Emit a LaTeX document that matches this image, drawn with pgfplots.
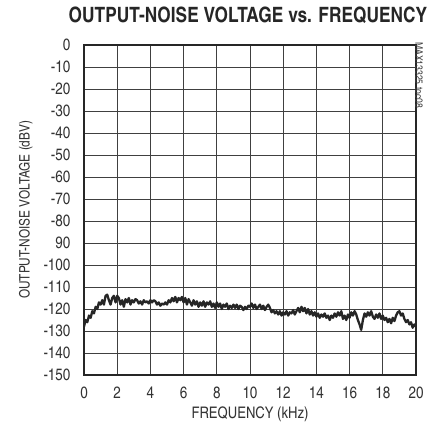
\documentclass[border=0pt]{standalone}
\usepackage{pgfplots}
\pgfplotsset{compat=1.18}
\usepackage{fontspec}
\setmainfont{texgyreheroscn}[Extension=.otf, UprightFont=*-regular, BoldFont=*-bold]
\pgfplotstableread{
f v
0.0 -128
0.1 -125
0.2 -126
0.3 -123
0.4 -124
0.5 -121
0.6 -122
0.7 -119
0.8 -120
0.9 -117
1.0 -118
1.1 -116
1.2 -118
1.3 -114
1.4 -113.5
1.5 -116
1.6 -118
1.7 -115
1.8 -114
1.9 -117
2.0 -114
2.1 -115
2.2 -118
2.3 -116
2.4 -119
2.5 -115.5
2.6 -117
2.7 -115
2.8 -118
2.9 -116
3.0 -117
3.1 -115.5
3.2 -116
3.3 -117.5
3.4 -116.5
3.5 -118
3.6 -116
3.7 -117
3.8 -116.5
3.9 -117.5
4.0 -116
4.1 -117
4.2 -116
4.3 -116.5
4.4 -118
4.5 -117
4.6 -118.5
4.7 -117.5
4.8 -118
4.9 -117
5.0 -118
5.1 -116
5.2 -117
5.3 -115
5.4 -116.5
5.5 -114.5
5.6 -117
5.7 -115
5.8 -116
5.9 -114.5
6.0 -117
6.1 -115
6.2 -118
6.3 -115.5
6.4 -117
6.5 -118.5
6.6 -116
6.7 -118
6.8 -116.5
6.9 -119
7.0 -117
7.1 -118.5
7.2 -116.5
7.3 -119
7.4 -117
7.5 -118
7.6 -116.5
7.7 -119
7.8 -117.5
7.9 -119.5
8.0 -117
8.1 -119
8.2 -117.5
8.3 -120
8.4 -118
8.5 -119
8.6 -117.5
8.7 -120
8.8 -118.5
8.9 -119.5
9.0 -118
9.1 -119.5
9.2 -118
9.3 -120
9.4 -118.5
9.5 -119
9.6 -120.5
9.7 -119
9.8 -120
9.9 -118.5
10.0 -119
10.1 -117.5
10.2 -119.5
10.3 -118
10.4 -120
10.5 -119
10.6 -118
10.7 -120
10.8 -118.5
10.9 -120.5
11.0 -119
11.1 -118
11.2 -119.5
11.3 -121.5
11.4 -120.5
11.5 -122
11.6 -121
11.7 -122.5
11.8 -121
11.9 -123
12.0 -121.5
12.1 -122.5
12.2 -121
12.3 -123
12.4 -121.5
12.5 -122
12.6 -120.5
12.7 -122.5
12.8 -121
12.9 -119.5
13.0 -121.5
13.1 -119
13.2 -121
13.3 -119.5
13.4 -122
13.5 -120
13.6 -122.5
13.7 -121
13.8 -123
13.9 -121.5
14.0 -123.5
14.1 -122
14.2 -124
14.3 -122.5
14.4 -123.5
14.5 -122
14.6 -124
14.7 -123
14.8 -125
14.9 -123
15.0 -124
15.1 -122
15.2 -123.5
15.3 -121.5
15.4 -123
15.5 -121
15.6 -124.5
15.7 -123
15.8 -125
15.9 -122.5
16.0 -124
16.1 -121.5
16.2 -123
16.3 -121
16.4 -122.5
16.5 -125
16.6 -127
16.7 -129.5
16.8 -125
16.9 -122
17.0 -123.5
17.1 -121.5
17.2 -123
17.3 -121
17.4 -123.5
17.5 -124.5
17.6 -122.5
17.7 -124
17.8 -122
17.9 -124.5
18.0 -123
18.1 -125
18.2 -124
18.3 -126
18.4 -124.5
18.5 -126.5
18.6 -124
18.7 -125.5
18.8 -123
18.9 -121.5
19.0 -121
19.1 -123
19.2 -122
19.3 -124.5
19.4 -126
19.5 -125
19.6 -127
19.7 -126
19.8 -128.5
19.9 -127
20.0 -128
}\noisedata
\begin{document}
\begin{tikzpicture}
\useasboundingbox (-84bp,-64bp) rectangle (348bp,375bp);
\begin{axis}[
  at={(0,0)}, anchor=south west,
  scale only axis,
  width=332bp, height=330bp,
  xmin=0, xmax=20, ymin=-150, ymax=0,
  xtick={0,2,...,20},
  ytick={0,-10,...,-150},
  yticklabels={0,-10,-20,-30,-40,-50,-60,-70,-80,90,-100,-110,-120,-130,-140,-150},
  /pgf/number format/assume math mode=true,
  major tick length=0pt,
  grid=major,
  major grid style={black!75, line width=0.8bp},
  axis line style={line width=2.6bp, black!85},
  tick label style={font=\fontsize{16.5}{18}\selectfont, text=black!80},
  xticklabel style={yshift=-8bp},
  yticklabel style={xshift=-10bp},
  xlabel={FREQUENCY (kHz)},
  xlabel style={font=\fontsize{16}{18}\selectfont, text=black!80, yshift=-2bp},
  ylabel={OUTPUT-NOISE VOLTAGE (dBV)},
  ylabel style={font=\fontsize{14.5}{16}\selectfont, text=black!80, yshift=4bp},
]
\addplot[line width=2.3bp, black!85, line join=round] table[x=f,y=v] {\noisedata};
\end{axis}
\node[anchor=north, font=\bfseries\fontsize{21.2}{25}\selectfont, text=black!85] at (164bp,372bp) {OUTPUT-NOISE VOLTAGE vs. FREQUENCY};
\node[rotate=-90, anchor=north west, text=black!75, inner sep=0pt, font=\fontsize{10.5}{12}\selectfont] at (339bp,333bp) {MAX13325 toc08};
\end{tikzpicture}
\end{document}
